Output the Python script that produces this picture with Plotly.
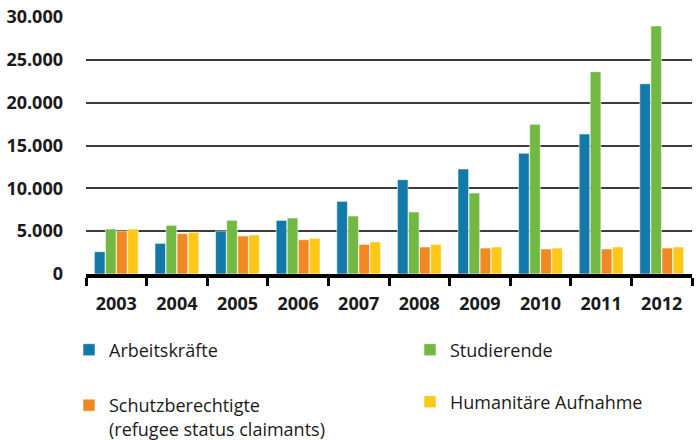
import plotly.graph_objects as go

years = ["2003", "2004", "2005", "2006", "2007", "2008", "2009", "2010", "2011", "2012"]
arbeitskraefte = [2600, 3580, 5020, 6260, 8480, 11010, 12260, 14090, 16340, 22210]
studierende = [5250, 5680, 6260, 6540, 6770, 7240, 9450, 17470, 23620, 28950]
schutzberechtigte = [5020, 4710, 4440, 4000, 3460, 3150, 3030, 2920, 2920, 3030]
humanitaere = [5250, 4860, 4550, 4160, 3740, 3460, 3150, 3030, 3150, 3150]

y_tickvals = [0, 5000, 10000, 15000, 20000, 25000, 30000]
y_ticktext = ["0", "5.000", "10.000", "15.000", "20.000", "25.000", "30.000"]

series = [
    ("Arbeitskräfte", arbeitskraefte, "#1379a8", "legend"),
    ("Studierende", studierende, "#72b944", "legend2"),
    ("Schutzberechtigte<br>(refugee status claimants)", schutzberechtigte, "#f08824", "legend3"),
    ("Humanitäre Aufnahme", humanitaere, "#fec818", "legend4"),
]

fig = go.Figure()
for name, vals, color, lg in series:
    fig.add_trace(go.Bar(
        x=years, y=vals, name=name, legend=lg,
        marker=dict(color=color, line=dict(color="rgba(255,255,255,0.55)", width=1)),
    ))

legend_font = dict(family="Open Sans", size=18, color="#1a1a1a")
def leg(x, y, yanchor="middle", valign="middle"):
    return dict(x=x, y=y, xref="container", yref="container", xanchor="left", yanchor=yanchor,
                font=legend_font, bgcolor="rgba(0,0,0,0)", borderwidth=0, valign=valign,
                itemclick=False, itemdoubleclick=False)

fig.update_layout(
    width=697, height=440,
    margin=dict(l=86, r=5, t=17, b=166, autoexpand=False),
    plot_bgcolor="white", paper_bgcolor="white",
    barmode="group", bargap=0.27, bargroupgap=0.04,
    showlegend=True,
    legend=leg(69 / 697, 1 - 350 / 440),
    legend2=leg(410 / 697, 1 - 350 / 440),
    legend3=leg(69 / 697, 1 - 387 / 440, yanchor="top", valign="top"),
    legend4=leg(410 / 697, 1 - 402 / 440),
    xaxis=dict(
        type="category", categoryorder="array", categoryarray=years,
        range=[-0.5, 9.5], automargin=False,
        showline=True, linecolor="#000000", linewidth=4,
        ticks="outside", tickson="boundaries", ticklen=8, tickwidth=3, tickcolor="#000000",
        tickfont=dict(family="Open Sans", size=18, color="#1a1a1a", weight="bold"),
        tickangle=0,
        showgrid=False, zeroline=False, ticklabelstandoff=10,
    ),
    yaxis=dict(
        range=[0, 30000], automargin=False,
        tickvals=y_tickvals, ticktext=y_ticktext,
        showgrid=True, gridcolor="#3c3c3c", gridwidth=1.6,
        zeroline=False, showline=False, ticks="",
        tickfont=dict(family="Open Sans", size=18, color="#1a1a1a", weight="bold"),
        ticklabelstandoff=22,
    ),
)

fig.write_html(
    "out.html",
    config={"displayModeBar": False},
    post_script="document.body.style.margin='0';document.body.style.padding='0';",
)
